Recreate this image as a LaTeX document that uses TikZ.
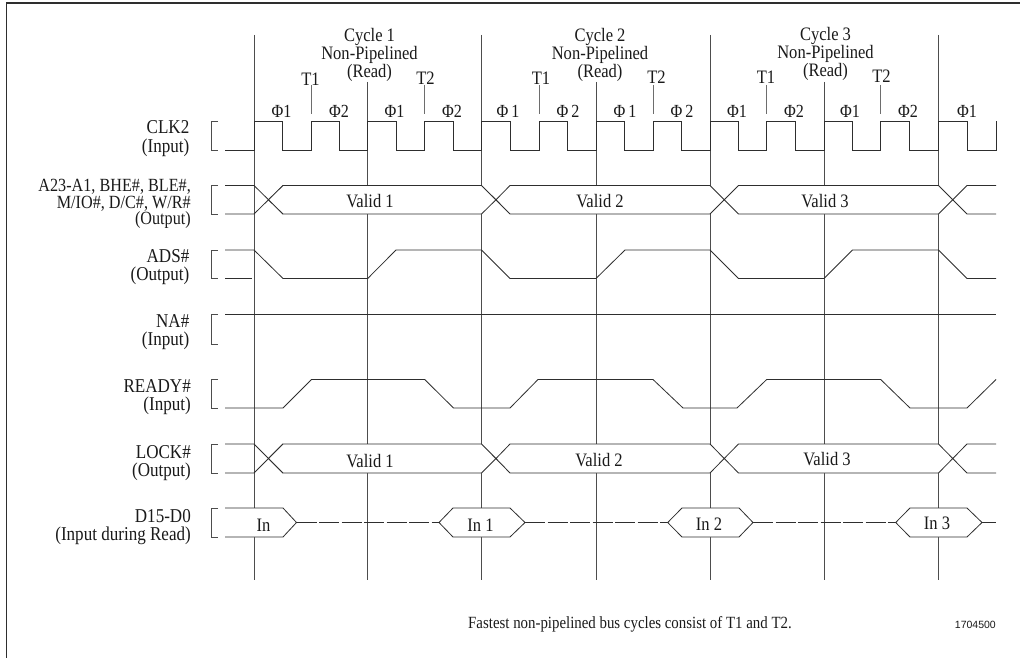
\documentclass[tikz,border=0pt]{standalone}
\usepackage{fontspec}
\setmainfont[FakeStretch=0.87]{Liberation Serif}
\newfontfamily\sansfam{Liberation Sans}
\definecolor{ink}{HTML}{2E2E2E}
\definecolor{tinkc}{HTML}{1A1A1A}
\tikzset{
  x=1pt,y=-1pt,
  sig/.style={draw=ink,line width=0.8pt,line join=miter},
  grid/.style={draw=ink!85,line width=0.8pt},
  tick/.style={draw=ink!70,line width=0.7pt},
  brk/.style={draw=ink!85,line width=0.8pt},
  box/.style={sig,fill=white},
  sigdash/.style={sig,dash pattern=on 20pt off 2.5pt},
  lab/.style={anchor=east,align=right,inner sep=0pt,text=tinkc,font=\fontsize{19.6}{18.5}\selectfont},
  head/.style={align=center,inner sep=0pt,text=tinkc,font=\fontsize{19}{15.5}\selectfont},
  txt/.style={inner sep=0pt,text=tinkc,font=\fontsize{19}{18}\selectfont},
  phi/.style={inner sep=0pt,text=tinkc,font=\fontsize{18.5}{18}\selectfont},
}
\newcommand{\Brk}[2]{\draw[brk] (218,#1) -- (211,#1) -- (211,#2) -- (218,#2);}
\newcommand{\BusRow}[2]{%
  \draw[sig] (225,#1) -- (254,#1) -- (283,#2);
  \draw[sig] (225,#2) -- (254,#2) -- (283,#1);
  \path[box] (268.5,{(#1+#2)/2}) -- (283,#1) -- (481.5,#1) -- (510,#2) -- (496,{(#1+#2)/2}) -- (510,#1) -- (710,#1) -- (738.5,#2) -- (724.2,{(#1+#2)/2}) -- (738.5,#1) -- (938.5,#1) -- (967,#2) -- (996,#2) -- (967,#2) -- (952.7,{(#1+#2)/2}) -- (967,#1) -- (996,#1) -- (967,#1) -- (938.5,#2) -- (738.5,#2) -- (710,#1) -- (710,#1) -- (724.2,{(#1+#2)/2}) -- (710,#2) -- (510,#2) -- (481.5,#1) -- (496,{(#1+#2)/2}) -- (481.5,#2) -- (283,#2) -- cycle;}
\begin{document}
\begin{tikzpicture}
\useasboundingbox (0,0) rectangle (1020,658);
\fill[white] (0,0) rectangle (1020,658);
% frame
\draw[draw=ink,line width=1.3pt] (6.5,658) -- (6.5,3) -- (1020,3);
% cycle lines
\foreach \xx in {254,481.5,710,938.5} \draw[grid] (\xx,35) -- (\xx,580);
\foreach \xx in {367.7,596,824} \draw[grid] (\xx,82) -- (\xx,580);
% T ticks
\foreach \xx in {311,424.7,539,653,766.7,880.7} \draw[tick] (\xx,85) -- (\xx,114);
% brackets
\Brk{121}{150}\Brk{185.5}{214}\Brk{250}{278.5}\Brk{314.5}{344}\Brk{379.5}{408}\Brk{444}{473}\Brk{508}{537}
% CLK2
\draw[sig] (225,150) -- (254,150) -- (254,121)
 -- (282.7,121) -- (282.7,150) -- (311,150) -- (311,121) -- (339.7,121) -- (339.7,150) -- (367.7,150)
 -- (367.7,121) -- (396.7,121) -- (396.7,150) -- (424.7,150) -- (424.7,121) -- (453,121) -- (453,150) -- (481.5,150)
 -- (481.5,121) -- (510,121) -- (510,150) -- (539,150) -- (539,121) -- (567.5,121) -- (567.5,150) -- (596,150)
 -- (596,121) -- (624.5,121) -- (624.5,150) -- (653,150) -- (653,121) -- (681.7,121) -- (681.7,150) -- (710,150)
 -- (710,121) -- (738.5,121) -- (738.5,150) -- (766.7,150) -- (766.7,121) -- (795.5,121) -- (795.5,150) -- (824,150)
 -- (824,121) -- (852.5,121) -- (852.5,150) -- (880.7,150) -- (880.7,121) -- (909.5,121) -- (909.5,150) -- (938.5,150)
 -- (938.5,121) -- (967,121) -- (967,150) -- (996,150) -- (996,121);
% bus rows
\BusRow{185.5}{214}
\BusRow{444}{473}
% ADS#
\draw[sig] (225,278.5) -- (252,278.5);
\draw[sig] (225,250) -- (254,250) -- (283,278.5) -- (367.7,278.5) -- (396,250) -- (481.5,250) -- (510,278.5) -- (596,278.5) -- (625,250) -- (710,250) -- (738.5,278.5) -- (824,278.5) -- (852.5,250) -- (938.5,250) -- (967,278.5) -- (996,278.5);
% NA#
\draw[sig] (225,314.5) -- (996,314.5);
% READY#
\draw[sig] (225,408) -- (283,408) -- (311.5,379.5) -- (424.7,379.5) -- (453.5,408) -- (510,408) -- (538,379.5) -- (653,379.5) -- (683,408) -- (737,408) -- (766.7,379.5) -- (880.7,379.5) -- (910,408) -- (967,408) -- (996,379.5);
% D15-D0
\draw[sigdash] (296.5,522.5) -- (439,522.5);
\draw[sigdash] (525,522.5) -- (667.7,522.5);
\draw[sigdash] (753,522.5) -- (895.7,522.5);
\draw[sigdash] (982,522.5) -- (996,522.5);
\path[box] (225,508) -- (283,508) -- (296.5,522.5) -- (283,537) -- (225,537);
\path[box] (439,522.5) -- (453,508) -- (510,508) -- (525,522.5) -- (510,537) -- (453,537) -- cycle;
\path[box] (667.7,522.5) -- (682,508) -- (739,508) -- (753,522.5) -- (739,537) -- (682,537) -- cycle;
\path[box] (895.7,522.5) -- (910,508) -- (967,508) -- (982,522.5) -- (967,537) -- (910,537) -- cycle;
% headers
\node[head] (c1) at (369.5,55) {Cycle 1\\Non-Pipelined\\(Read)};
\node[head] (c2) at (600,55) {Cycle 2\\Non-Pipelined\\(Read)};
\node[head] (c3) at (825.5,54) {Cycle 3\\Non-Pipelined\\(Read)};
% T labels
\node[txt] (t1a) at (310.5,79) {T1};
\node[txt] (t2a) at (425.5,78) {T2};
\node[txt] (t1b) at (541,78) {T1};
\node[txt] (t2b) at (656.5,77) {T2};
\node[txt] (t1c) at (766,77) {T1};
\node[txt] (t2c) at (881.5,76) {T2};
% phases
\node[phi] (p1) at (281.5,111) {Φ1};
\node[phi] (p2) at (339,111) {Φ2};
\node[phi] (p3) at (394.5,111) {Φ1};
\node[phi] (p4) at (452,111) {Φ2};
\node[phi] (p5) at (508,111) {Φ\,1};
\node[phi] (p6) at (568,111) {Φ\,2};
\node[phi] (p7) at (625,111) {Φ\,1};
\node[phi] (p8) at (682,111) {Φ\,2};
\node[phi] (p9) at (737,111) {Φ1};
\node[phi] (p10) at (794,111) {Φ2};
\node[phi] (p11) at (850,111) {Φ1};
\node[phi] (p12) at (908,111) {Φ2};
\node[phi] (p13) at (967,111) {Φ1};
% signal labels
\node[lab] (l1) at (189.5,138.5) {CLK2\\(Input)};
\node[lab,font=\fontsize{18.6}{16.5}\selectfont] (l2) at (191,204) {A23-A1, BHE\#, BLE\#,\\M/IO\#, D/C\#, W/R\#\\(Output)};
\node[lab] (l3) at (189.5,267) {ADS\#\\(Output)};
\node[lab] (l4) at (189.5,332) {NA\#\\(Input)};
\node[lab] (l5) at (191,397) {READY\#\\(Input)};
\node[lab] (l6) at (191,463) {LOCK\#\\(Output)};
\node[lab] (l7) at (191,527) {D15-D0\\(Input during Read)};
% box text
\node[txt] (v1) at (370,201.5) {Valid 1};
\node[txt] (v2) at (600,201.5) {Valid 2};
\node[txt] (v3) at (825,201.5) {Valid 3};
\node[txt] (v4) at (370,461) {Valid 1};
\node[txt] (v5) at (599,460) {Valid 2};
\node[txt] (v6) at (827,459.5) {Valid 3};
\node[txt] (i0) at (263.5,525) {In};
\node[txt] (i1) at (480.5,525) {In 1};
\node[txt] (i2) at (709,524) {In 2};
\node[txt] (i3) at (937,523.5) {In 3};
% footer
\node[inner sep=0pt,text=tinkc,anchor=west,font=\fontsize{17.1}{16}\selectfont] (fn) at (468,624) {Fastest non-pipelined bus cycles consist of T1 and T2.};
\node[inner sep=0pt,text=tinkc,anchor=east,font=\sansfam\fontsize{10.5}{12}\selectfont] (id) at (996,625) {1704500};
\end{tikzpicture}
\end{document}
